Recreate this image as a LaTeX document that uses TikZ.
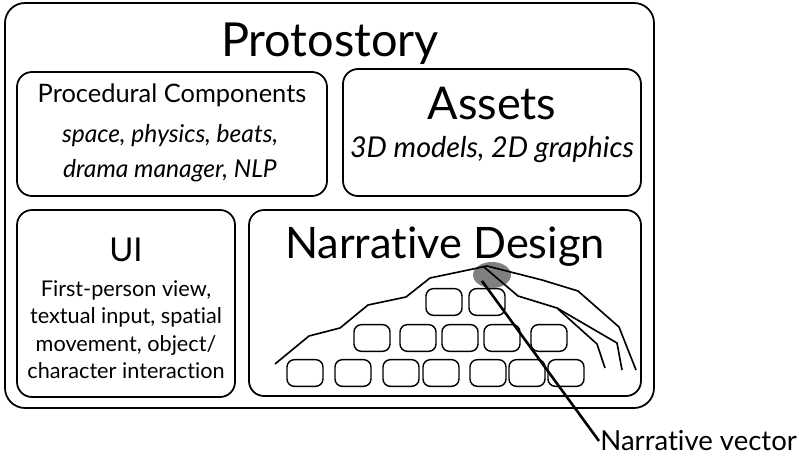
\documentclass[tikz,border=0pt]{standalone}
\usepackage{fontspec}
\setmainfont{Lato}[Ligatures=NoCommon]
\usetikzlibrary{positioning,calc,fit,shapes.geometric}

\begin{document}
\begin{tikzpicture}[
    x=0.03cm, y=-0.03cm,
    panel/.style={draw,line width=1.5pt,rounded corners=0.45cm,inner sep=0pt},
    cell/.style={draw,line width=1.2pt,rounded corners=0.22cm,minimum width=1.08cm,minimum height=0.8cm,inner sep=0pt},
    ridge/.style={line width=1.4pt,line join=round},
    hdr/.style={anchor=base,inner sep=0pt},
    body/.style={anchor=base,inner sep=0pt,align=center}
]
\useasboundingbox (0,0) rectangle (799,458);

% panels
\node[panel,rounded corners=0.6cm,fit={(5,3) (654,408)}] (proto) {};
\node[panel,fit={(17,72) (327,196)}] (proc) {};
\node[panel,fit={(343,69) (641,196)}] (assets) {};
\node[panel,fit={(17,210) (235,397)}] (ui) {};
\node[panel,fit={(249,210) (641,396)}] (narr) {};

% titles
\node[hdr,font=\fontsize{40}{44}\selectfont] (title) at (330,57) {Protostory};
\node[hdr,font=\fontsize{21.7}{24}\selectfont] (proctitle) at (172,103) {Procedural Components};
\node[hdr,font=\fontsize{21}{23}\selectfont\itshape] (proc1) at (170,143) {space, physics, beats,};
\node[hdr,font=\fontsize{21}{23}\selectfont\itshape] (proc2) at (170,178) {drama manager, NLP};
\node[hdr,font=\fontsize{38.5}{42}\selectfont] (assettitle) at (492,120) {Assets};
\node[hdr,font=\fontsize{24.5}{28}\selectfont\itshape] (asset1) at (492,158) {3D models, 2D graphics};
\node[hdr,font=\fontsize{28}{32}\selectfont] (uititle) at (126,262) {UI};
\node[body,font=\fontsize{18.5}{23.5}\selectfont] (uitext) at (126,379)
    {First-person view,\\textual input, spatial\\movement, object/\\character interaction};
\node[hdr,font=\fontsize{37}{40}\selectfont] (narrtitle) at (445,259) {Narrative Design};

% story cells
\foreach \cx [count=\i] in {444,487}
    \node[cell] (t\i) at (\cx,302) {};
\foreach \cx [count=\i] in {372,418,460,502,549}
    \node[cell] (m\i) at (\cx,338) {};
\foreach \cx [count=\i] in {305,353,401,441,488,527,566}
    \node[cell] (b\i) at (\cx,373) {};

% peak and ridges
\node[ellipse,fill=black!50,minimum width=1.14cm,minimum height=0.78cm,inner sep=0pt] (peak) at (492,275) {};
\draw[ridge] (275,364) -- (309,336) -- (340,328) -- (368,305) -- (406,297) -- (430,278) -- (473,269) -- (487,266);
\draw[ridge] (487,266) -- (542,280) -- (578,291) -- (619,327) -- (636,370);
\draw[ridge] (484,267) -- (518,296) -- (557,308) -- (617,343) -- (622,370);
\draw[ridge] (558,309) -- (597,344) -- (605,368);

% vector
\coordinate (tail) at (482,281);
\node[anchor=west,inner sep=1pt,font=\fontsize{23.5}{26}\selectfont] (vec) at (599,441) {Narrative vector};
\draw[line width=2.2pt] (tail) -- (vec.west);
\end{tikzpicture}
\end{document}
